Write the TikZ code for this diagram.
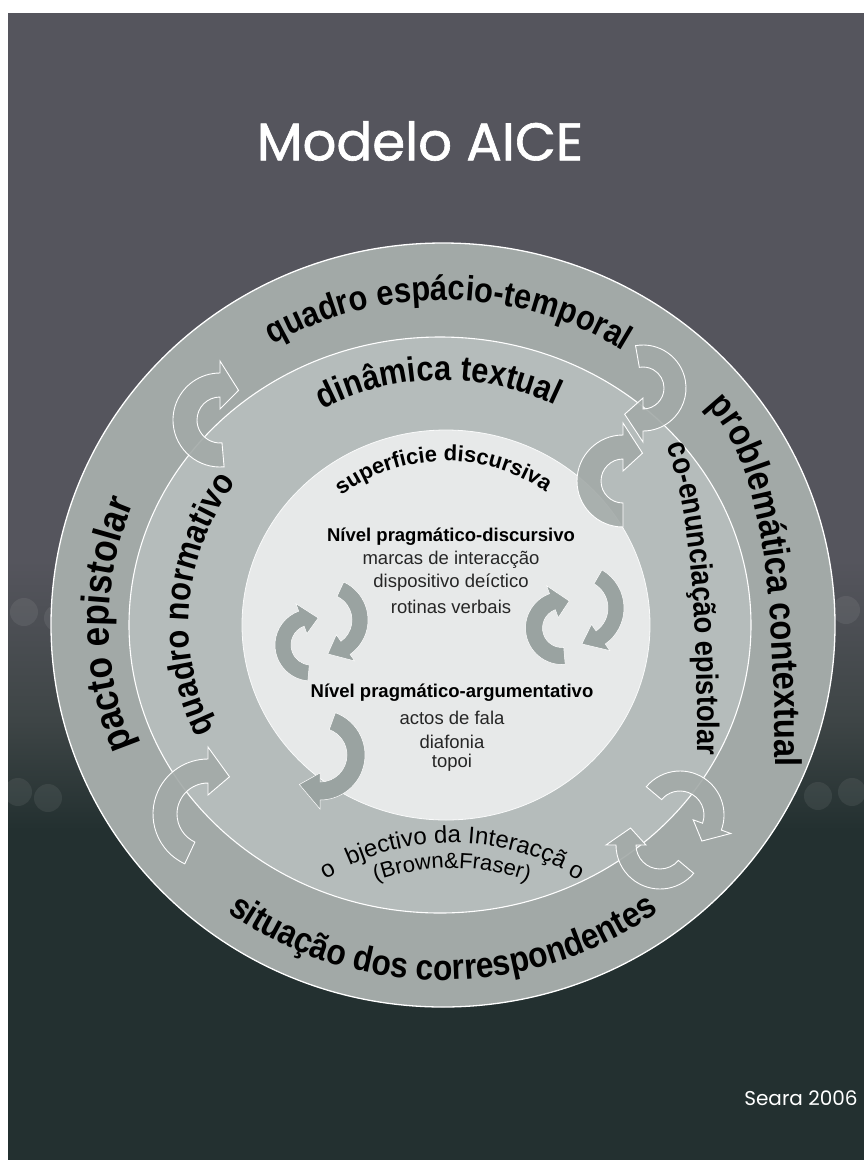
\documentclass[tikz,border=0pt]{standalone}
\usepackage{fontspec}
\setmainfont{Liberation Sans}
\newfontfamily\titlefont{Poppins}[FakeBold=1.2]
\newfontfamily\creditfont{Poppins}
\newfontfamily\ringfont{Liberation Sans}[FakeStretch=0.88]
\usetikzlibrary{calc,decorations.text}
\definecolor{bgtop}{HTML}{55555D}
\definecolor{bgmid}{HTML}{3E4546}
\definecolor{bgbot}{HTML}{233030}
\definecolor{ringout}{HTML}{A2A9A7}
\definecolor{ringmid}{HTML}{B5BCBB}
\definecolor{innerc}{HTML}{E7E9E9}
\definecolor{arrring}{HTML}{A3AAA8}
\definecolor{arrin}{HTML}{9AA3A1}
\newcommand\rf[1]{\ringfont\bfseries\fontsize{#1}{#1}\selectfont}
\newcommand\surffont{\fontsize{22}{22}\selectfont\bfseries}
\newcommand\objfont{\fontsize{24}{24}\selectfont}
\newcommand\bfont{\fontsize{22}{22}\selectfont}
% curved arrow: style, center, mid radius, half width, start, end, head angle
\newcommand\cycarrow[7]{%
  \path[#1] (#2) ++(#5:#3+#4) arc[start angle=#5, end angle=#6, radius=#3+#4]
    -- ($(#2)+(#6:#3+2*#4)$) -- ($(#2)+(#6+#7:#3)$) -- ($(#2)+(#6:#3-2*#4)$)
    -- ($(#2)+(#6:#3-#4)$) arc[start angle=#6, end angle=#5, radius=#3-#4] -- cycle;}
\tikzset{
  ringarrow/.style={fill=arrring, fill opacity=0.9, draw=white, line width=0.9pt},
  innerarrow/.style={fill=arrin, draw=white, line width=0.5pt},
  innertxt/.style={font=\fontsize{18.5}{18.5}\selectfont, text=black!85, inner sep=0pt},
  innerhead/.style={font=\fontsize{18.5}{18.5}\selectfont\bfseries, text=black, inner sep=0pt},
  blob/.style={fill=white, opacity=0.07}
}
\begin{document}
\begin{tikzpicture}[x=1pt,y=1pt]
\useasboundingbox (0,0) rectangle (864,-1160);
\fill[white] (0,0) rectangle (864,-1160);
% background
\fill[bgtop] (8,-13) rectangle (864,-560);
\shade[top color=bgtop, bottom color=bgmid] (8,-560) rectangle (864,-720);
\shade[top color=bgmid, bottom color=bgbot] (8,-720) rectangle (864,-830);
\fill[bgbot] (8,-830) rectangle (864,-1160);
\foreach \p in {(24,-612),(58,-618),(18,-792),(48,-798),(846,-610),(852,-792),(818,-796)}
  \fill[blob] \p circle (14);
% rings
\fill[ringout] (443,-625) ellipse [x radius=392, y radius=382];
\fill[ringmid] (440,-625) ellipse [x radius=311, y radius=288];
\fill[innerc] (446,-625) ellipse [x radius=204, y radius=195];
\draw[white, line width=1.3pt] (443,-625) ellipse [x radius=392, y radius=382];
\draw[white, line width=1.1pt] (440,-625) ellipse [x radius=311, y radius=288];
\draw[white!80!innerc, line width=0.8pt] (446,-625) ellipse [x radius=204, y radius=195];
% arrows in the rings
\cycarrow{ringarrow}{220,-420}{35}{12}{275}{90}{-32}
\cycarrow{ringarrow}{643,-388}{32}{11}{100}{-90}{-35}
\cycarrow{ringarrow}{623,-481}{34}{12}{270}{90}{-35}
\cycarrow{ringarrow}{208,-814}{43}{12}{245}{90}{-30}
\cycarrow{ringarrow}{680,-815}{34}{10}{140}{-20}{-30}
\cycarrow{ringarrow}{660,-845}{34}{10}{-40}{-180}{-30}
% arrows in the inner circle
\cycarrow{innerarrow}{326,-620}{34}{8}{65}{-55}{-32}
\cycarrow{innerarrow}{311,-645}{28}{8}{265}{110}{-35}
\cycarrow{innerarrow}{562,-628}{28}{8.5}{275}{110}{-35}
\cycarrow{innerarrow}{580,-608}{36}{8}{60}{-55}{-32}
\cycarrow{innerarrow}{320,-755}{36}{9}{70}{-90}{-35}
% title and credit
\node[text=white, font=\titlefont\fontsize{53}{53}\selectfont, inner sep=0pt] (title) at (420,-141) {Modelo AICE};
\node[text=white, font=\creditfont\fontsize{20}{20}\selectfont, inner sep=0pt] (credit) at (801,-1098) {Seara 2006};
% outer ring labels
\path[decorate, decoration={text along path, text align=center, text={|\rf{35}|quadro espácio-temporal}}]
  (443,-625) ++(150:336 and 325) arc[start angle=150, end angle=28, x radius=336, y radius=325];
\path[decorate, decoration={text along path, text align=center, text={|\rf{40}|pacto epistolar}}]
  (443,-625) ++(225:334 and 323) arc[start angle=225, end angle=135, x radius=334, y radius=323];
\path[decorate, decoration={text along path, text={|\rf{37}|problemática contextual}}]
  (706,-406) .. controls (752,-452) and (777,-540) .. (775,-800);
\path[decorate, decoration={text along path, text align=center, text={|\rf{36}|situação dos correspondentes}}]
  (443,-625) ++(225:366 and 355) arc[start angle=225, end angle=315, x radius=366, y radius=355];
% middle ring labels
\path[decorate, decoration={text along path, text align=center, text={|\rf{35}|dinâmica textual}}]
  (443,-625) ++(140:253 and 245) arc[start angle=140, end angle=42, x radius=253, y radius=245];
\path[decorate, decoration={text along path, text align=center, text={|\rf{35}|quadro normativo}}]
  (443,-625) ++(215:254 and 245) arc[start angle=215, end angle=135, x radius=254, y radius=245];
\path[decorate, decoration={text along path, text={|\rf{31}|co-enunciação epistolar}}]
  (666,-446) .. controls (688,-500) and (700,-600) .. (697,-790);
% bottom of middle ring
\path[decorate, decoration={text along path, text align=center, text={|\objfont|bjectivo da Interacçã}}]
  (452,-1090) ++(130:247) arc[start angle=130, end angle=48, radius=247];
\path[decorate, decoration={text along path, text align=center, text={|\bfont|(Brown{\&}Fraser)}}]
  (452,-1090) ++(125:222) arc[start angle=125, end angle=55, radius=222];
\node[font=\objfont, rotate=28, inner sep=0pt] (oleft) at (328,-871) {o};
\node[font=\objfont, rotate=-28, inner sep=0pt] (oright) at (576,-872) {o};
% inner circle
\path[decorate, decoration={text along path, text align=center, text={|\surffont|superficie discursiva}}]
  (446,-625) ++(140:170 and 164) arc[start angle=140, end angle=42, x radius=170, y radius=164];
\node[innerhead] (n1) at (451,-537) {Nível pragmático-discursivo};
\node[innertxt] (n1a) at (451,-560) {marcas de interacção};
\node[innertxt] (n1b) at (451,-583) {dispositivo deíctico};
\node[innertxt] (n1c) at (451,-607) {rotinas verbais};
\node[innerhead] (n2) at (452,-693) {Nível pragmático-argumentativo};
\node[innertxt] (n2a) at (452,-718) {actos de fala};
\node[innertxt] (n2b) at (452,-742) {diafonia};
\node[innertxt] (n2c) at (452,-763) {topoi};
\end{tikzpicture}
\end{document}
